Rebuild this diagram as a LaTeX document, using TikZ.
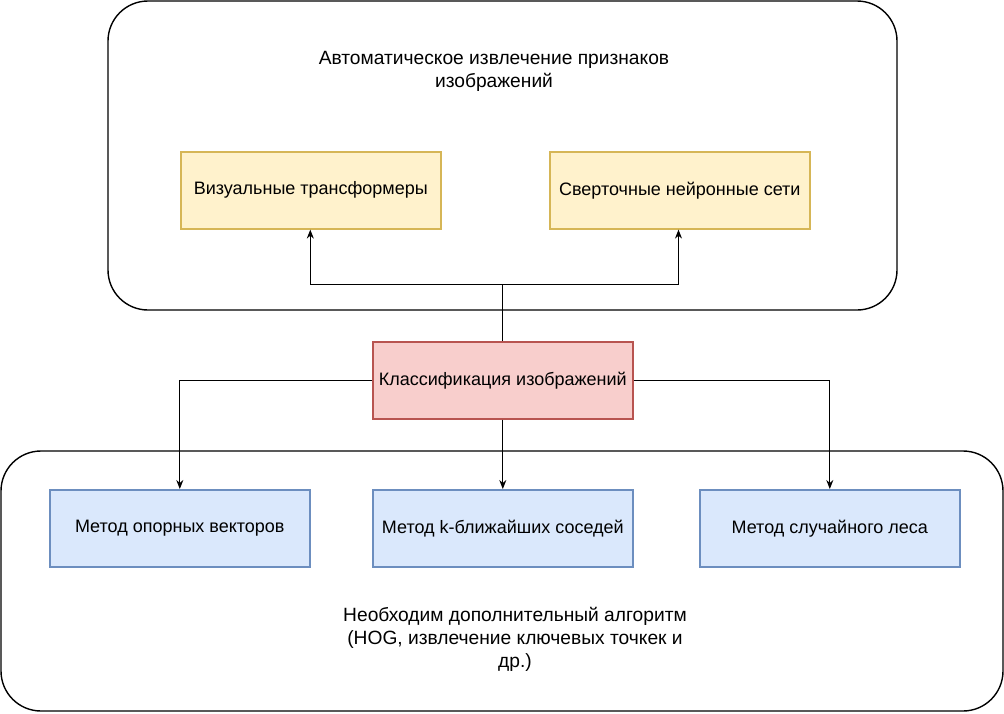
\documentclass[tikz,border=0pt]{standalone}
\usepackage{fontspec}
\setmainfont{Liberation Sans}
\usetikzlibrary{arrows.meta}
\definecolor{ylwfill}{HTML}{FFF2CC}
\definecolor{ylwline}{HTML}{D6B656}
\definecolor{redfill}{HTML}{F8CECC}
\definecolor{redline}{HTML}{B85450}
\definecolor{blufill}{HTML}{DAE8FC}
\definecolor{bluline}{HTML}{6C8EBF}
\begin{document}
\begin{tikzpicture}[x=1pt,y=-1pt,
  every node/.style={font=\fontsize{18}{23}\selectfont},
  grouptext/.style={align=center, font=\fontsize{19.2}{23}\selectfont},
  group/.style={draw=black, line width=1.4pt, rounded corners=40pt},
  box/.style={minimum width=260pt, minimum height=77pt, line width=1.6pt, inner sep=0pt, anchor=north west},
  ybox/.style={box, draw=ylwline, fill=ylwfill},
  rbox/.style={box, draw=redline, fill=redfill},
  bbox/.style={box, draw=bluline, fill=blufill},
  conn/.style={draw=black, line width=1pt, -{Stealth[length=9pt,width=7pt]}}]
  \useasboundingbox (0,0) rectangle (1004,713);
  % containers
  \draw[group] (108,1) rectangle (897,310);
  \draw[group] (1,451) rectangle (1003,711);
  \node[grouptext] (ttop) at (494,71) {Автоматическое извлечение признаков\\изображений};
  \node[grouptext] (tbot) at (515,639) {Необходим дополнительный алгоритм\\(HOG, извлечение ключевых точкек и\\др.)};
  % boxes
  \node[ybox] (vit) at (180,151) {Визуальные трансформеры};
  \node[ybox] (cnn) at (549,151) {Сверточные нейронные сети};
  \node[rbox] (cls) at (372,341) {Классификация изображений};
  \node[bbox] (svm) at (49,489) {Метод опорных векторов};
  \node[bbox] (knn) at (372,489) {Метод k-ближайших соседей};
  \node[bbox] (rf) at (699,489) {Метод случайного леса};
  % connectors
  \coordinate (split) at (cls.north |- 0,284);
  \draw[draw=black, line width=1pt] (cls.north) -- (split);
  \draw[conn] (split) -| ([xshift=-0.5pt]vit.south);
  \draw[conn] (split) -| ([xshift=-0.5pt]vit.south -| 679,0);
  \draw[conn] (cls.west) -| (svm.north);
  \draw[conn] (cls.south) -- (knn.north);
  \draw[conn] (cls.east) -| (rf.north);
\end{tikzpicture}
\end{document}
